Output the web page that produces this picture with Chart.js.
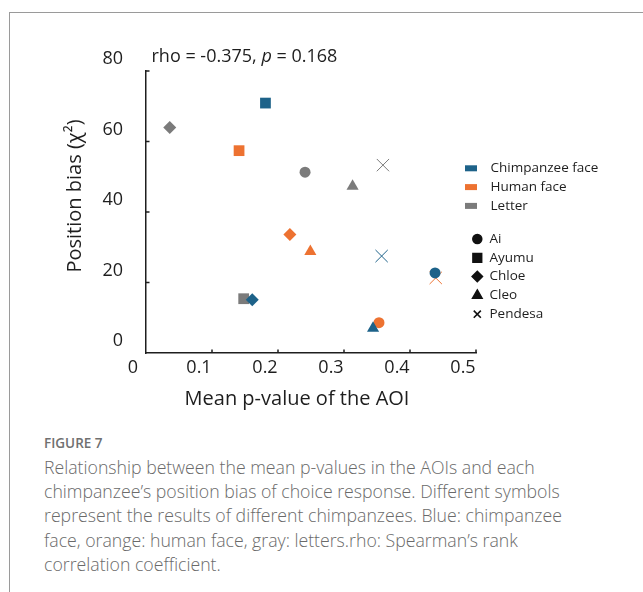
<!DOCTYPE html>
<html>
<head>
<meta charset="utf-8">
<script src="https://cdn.jsdelivr.net/npm/chart.js@4.4.1/dist/chart.umd.min.js"></script>
<style>
    html, body { margin: 0; padding: 0; background: #ffffff; }
    #page { position: relative; width: 643px; height: 592px; overflow: hidden; }
    #frame { position: absolute; left: 9px; top: 12px; width: 640px; height: 600px;
             border-left: 1px solid #9a9a9a; border-top: 1px solid #9a9a9a; }
    #chartBox { position: absolute; left: 0; top: 0; width: 643px; height: 420px; }
    #figLabel { position: absolute; left: 44px; top: 434px; font-family: 'Open Sans', sans-serif;
                font-weight: 600; font-size: 13.5px; line-height: 18px; color: #707070; }
    #caption { position: absolute; left: 44px; top: 455px; font-family: 'Open Sans', sans-serif;
               font-weight: 300; font-size: 17.7px; line-height: 24.2px; color: #6a6a6a; white-space: nowrap; }
</style>
</head>
<body>
<div id="page">
    <div id="frame"></div>
    <div id="chartBox"><canvas id="biasChart" width="643" height="420"></canvas></div>
    <div id="figLabel">FIGURE 7</div>
    <div id="caption">
        Relationship between the mean p-values in the AOIs and each<br>
        chimpanzee’s position bias of choice response. Different symbols<br>
        represent the results of different chimpanzees. Blue: chimpanzee<br>
        face, orange: human face, gray: letters.rho: Spearman’s rank<br>
        correlation coefficient.
    </div>
</div>
<script>
// Position bias vs mean p-value per chimpanzee, one array pair per AOI type
const chimps = ['Ai', 'Ayumu', 'Chloe', 'Cleo', 'Pendesa'];
const chimpStyles = ['circle', 'rect', 'rectRot', 'triangle', 'crossRot'];

const chimpFaceX = [0.438, 0.181, 0.161, 0.344, 0.357];
const chimpFaceY = [22.7, 70.9, 15.1, 7.0, 27.5];
const humanFaceX = [0.353, 0.141, 0.218, 0.249, 0.439];
const humanFaceY = [8.6, 57.4, 33.6, 28.8, 21.3];
const letterX = [0.241, 0.148, 0.036, 0.313, 0.359];
const letterY = [51.3, 15.4, 64.0, 47.3, 53.3];

const xTickLabels = ['0', '0.1', '0.2', '0.3', '0.4', '0.5'];
const yTickLabels = ['0', '20', '40', '60', '80'];

const seriesNames = ['Chimpanzee face', 'Human face', 'Letter'];
const seriesColors = ['#1d6289', '#ed7231', '#7b7b7b'];

const markerRadius = { circle: 5.5, rect: 7.6, rectRot: 6.5, triangle: 7, crossRot: 8.7 };
const legendRadius = { circle: 4.5, rect: 6.2, rectRot: 5.2, triangle: 5.5, crossRot: 5 };

const FONT = "'Open Sans', sans-serif";
const INK = '#1e1e1e';

function makePoints(xs, ys) {
    return xs.map(function (x, i) { return { x: x, y: ys[i] }; });
}

function makeDataset(label, color, xs, ys) {
    return {
        label: label,
        data: makePoints(xs, ys),
        pointStyle: chimpStyles,
        pointRadius: chimpStyles.map(function (s) { return markerRadius[s]; }),
        backgroundColor: color,
        borderColor: color,
        pointBorderWidth: chimpStyles.map(function (s) { return s === 'crossRot' ? 1 : 0; }),
        pointHoverRadius: 0
    };
}

// Axis titles, inward tick marks, rho text and the two-part legend
const decorations = {
    id: 'decorations',
    afterDraw: function (chart) {
        const ctx = chart.ctx;
        const xs = chart.scales.x;
        const ys = chart.scales.y;
        const left = xs.getPixelForValue(0);
        const bottom = ys.getPixelForValue(0);

        ctx.save();
        ctx.strokeStyle = INK;
        ctx.lineWidth = 1.5;
        ctx.beginPath();
        for (let i = 1; i < xTickLabels.length; i++) {
            const px = xs.getPixelForValue(i * 0.1);
            ctx.moveTo(px, bottom);
            ctx.lineTo(px, bottom - 3.5);
        }
        for (let j = 1; j < yTickLabels.length; j++) {
            const py = ys.getPixelForValue(j * 20);
            ctx.moveTo(left, py);
            ctx.lineTo(left + 3.5, py);
        }
        ctx.stroke();

        ctx.fillStyle = INK;
        ctx.textBaseline = 'middle';

        // axis titles
        ctx.font = '20px ' + FONT;
        ctx.textAlign = 'center';
        ctx.fillText('Mean p-value of the AOI', 297, 399);
        ctx.save();
        ctx.translate(75, 196);
        ctx.rotate(-Math.PI / 2);
        ctx.fillText('Position bias (\u03C7\u00B2)', 0, 0);
        ctx.restore();

        // rho annotation with italic p
        ctx.textAlign = 'left';
        let tx = 151.5;
        const ty = 57;
        const parts = [['rho = -0.375, ', ''], ['p', 'italic '], [' = 0.168', '']];
        parts.forEach(function (p) {
            ctx.font = p[1] + '18px ' + FONT;
            ctx.fillText(p[0], tx, ty);
            tx += ctx.measureText(p[0]).width;
        });

        // legend: colours
        ctx.font = '13.5px ' + FONT;
        const rowGap = 18.8;
        seriesNames.forEach(function (name, i) {
            const ry = 168.3 + i * rowGap;
            ctx.fillStyle = seriesColors[i];
            ctx.fillRect(465, ry - 3, 12, 6);
            ctx.fillStyle = INK;
            ctx.fillText(name, 490.5, ry);
        });

        // legend: symbols
        chimps.forEach(function (name, i) {
            const ry = 239 + i * rowGap;
            const style = chimpStyles[i];
            ctx.fillStyle = '#111111';
            ctx.strokeStyle = '#111111';
            ctx.lineWidth = style === 'crossRot' ? 1.6 : 0;
            Chart.helpers.drawPoint(ctx, {
                pointStyle: style,
                radius: legendRadius[style],
                borderWidth: ctx.lineWidth,
                rotation: 0
            }, 477.3, ry);
            ctx.fillStyle = INK;
            ctx.fillText(name, 489.5, ry);
        });
        ctx.restore();
    }
};

document.addEventListener('DOMContentLoaded', function () {
    const canvas = document.getElementById('biasChart');

    new Chart(canvas.getContext('2d'), {
        type: 'scatter',
        data: {
            datasets: [
                makeDataset(seriesNames[0], seriesColors[0], chimpFaceX, chimpFaceY),
                makeDataset(seriesNames[1], seriesColors[1], humanFaceX, humanFaceY),
                makeDataset(seriesNames[2], seriesColors[2], letterX, letterY)
            ]
        },
        options: {
            responsive: false,
            animation: false,
            events: [],
            layout: {
                padding: { left: 0, top: 71, right: 167, bottom: 0 }
            },
            plugins: {
                legend: { display: false },
                tooltip: { enabled: false }
            },
            scales: {
                x: {
                    type: 'linear',
                    min: 0,
                    max: 0.5,
                    afterFit: function (scale) { scale.height = 67; },
                    afterBuildTicks: function (scale) {
                        scale.ticks = xTickLabels.map(function (t, i) { return { value: i * 0.1 }; });
                    },
                    grid: { display: false, drawTicks: false },
                    border: { display: true, color: INK, width: 1.5 },
                    ticks: {
                        padding: 4,
                        labelOffset: -13,
                        maxRotation: 0,
                        autoSkip: false,
                        color: INK,
                        font: { size: 18, family: FONT },
                        callback: function (value, index) { return xTickLabels[index]; }
                    }
                },
                y: {
                    type: 'linear',
                    min: 0,
                    max: 80,
                    afterFit: function (scale) { scale.width = 146; },
                    afterBuildTicks: function (scale) {
                        scale.ticks = yTickLabels.map(function (t, i) { return { value: i * 20 }; });
                    },
                    grid: { display: false, drawTicks: false },
                    border: { display: true, color: INK, width: 1.5 },
                    ticks: {
                        padding: 23,
                        labelOffset: -12,
                        autoSkip: false,
                        color: INK,
                        font: { size: 18, family: FONT },
                        callback: function (value, index) { return yTickLabels[index]; }
                    }
                }
            }
        },
        plugins: [decorations]
    });
});
</script>
</body>
</html>
